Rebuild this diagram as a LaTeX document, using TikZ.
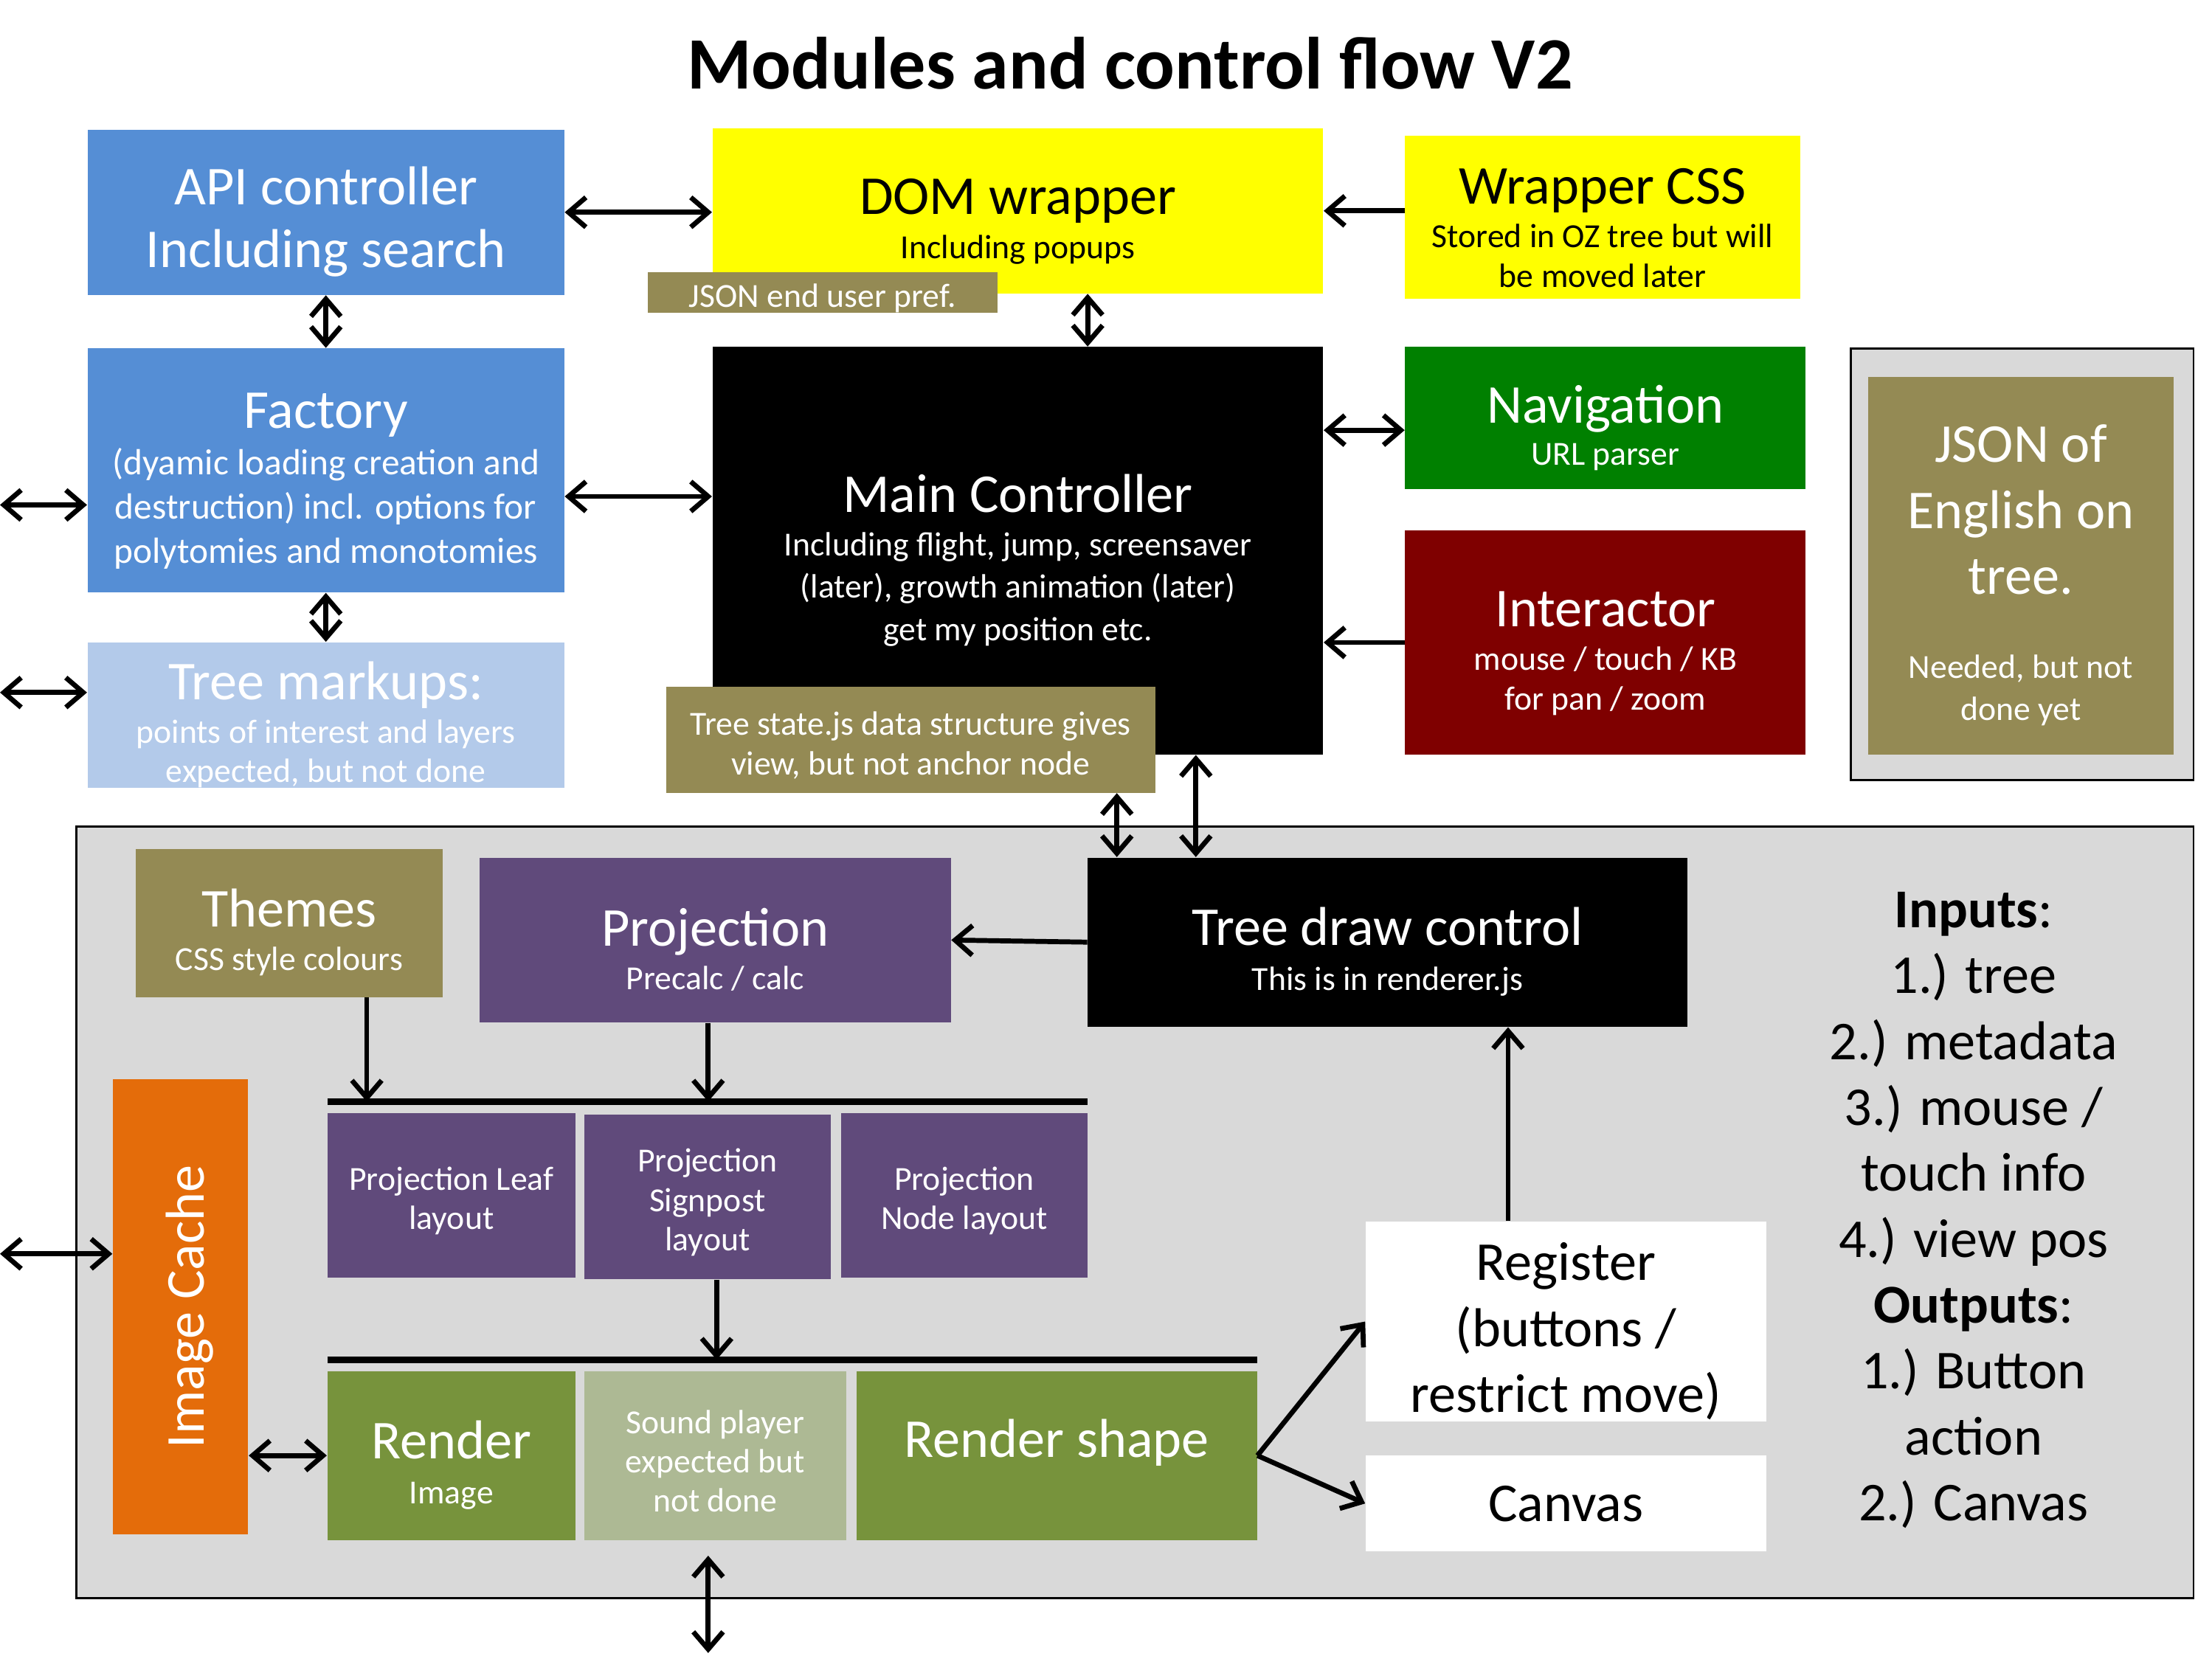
\documentclass[tikz,border=0pt]{standalone}
\usepackage{fontspec}
\setmainfont{Carlito}
\usetikzlibrary{positioning,calc,arrows.meta}
\definecolor{apiblue}{RGB}{85,142,213}
\definecolor{markblue}{RGB}{179,202,234}
\definecolor{domyellow}{RGB}{255,255,0}
\definecolor{ozolive}{RGB}{148,138,84}
\definecolor{navgreen}{RGB}{0,128,0}
\definecolor{interred}{RGB}{127,0,0}
\definecolor{projpurple}{RGB}{96,74,123}
\definecolor{rendergreen}{RGB}{119,147,60}
\definecolor{soundgreen}{RGB}{173,185,148}
\definecolor{cacheorange}{RGB}{228,108,10}
\definecolor{panelgrey}{RGB}{217,217,217}
\newcommand{\bigf}{\fontsize{22.1}{26.6}\selectfont}
\newcommand{\subf}{\fontsize{13.6}{15.9}\selectfont}
% invisible struts that push the text a little lower (or higher) in its box
\newcommand{\topb}{\rule{0pt}{23pt}}
\newcommand{\tops}{\rule{0pt}{14pt}}
\newcommand{\botb}{\rule[-14pt]{0pt}{14pt}}
\lineskiplimit=-\maxdimen

\begin{document}
\begin{tikzpicture}[
    x=0.02cm, y=-0.02cm,
    box/.style={inner sep=0pt, align=center, font=\subf, text=white},
    arrow/.style={-{Straight Barb[length=7pt,width=12pt]}, line width=2pt},
    dblarrow/.style={{Straight Barb[length=7pt,width=12pt]}-{Straight Barb[length=7pt,width=12pt]}, line width=2pt},
    bar/.style={line width=2.6pt}
]
\useasboundingbox (0,0) rectangle (1568,1176);

% Title
\node[font=\fontsize{29.8}{35}\selectfont\bfseries] (title) at (801,45) {Modules and control flow V2};

% Grey panels behind
\node[draw, line width=0.8pt, fill=panelgrey, minimum width=30.02cm, minimum height=10.94cm, inner sep=0pt] (panel) at (804.5,859.5) {};
\node[draw, line width=0.8pt, fill=panelgrey, minimum width=4.86cm, minimum height=6.12cm, inner sep=0pt] (jsonframe) at (1433.5,400) {};

% Top row
\node[box, fill=apiblue, minimum width=6.76cm, minimum height=2.34cm, font=\bigf] (api) at (231,150.5) {\topb API controller\\[-1.1pt]Including search};
\node[box, fill=domyellow, text=black, minimum width=8.66cm, minimum height=2.34cm] (dom) at (721.5,149.5) {{\bigf\topb DOM wrapper}\\[1.7pt]Including popups};
\node[box, fill=ozolive, minimum width=4.96cm, minimum height=0.58cm] (jsonpref) at (583,207.5) {\tops JSON end user pref.};
\node[box, fill=domyellow, text=black, minimum width=5.6cm, minimum height=2.32cm] (wcss) at (1136,154) {{\bigf\topb Wrapper CSS}\\[1.7pt]Stored in OZ tree but will\\be moved later};

% Middle rows
\node[box, fill=apiblue, minimum width=6.76cm, minimum height=3.46cm, font=\fontsize{14.7}{17.9}\selectfont] (factory) at (231,333.5) {{\bigf\topb Factory}\\[0.8pt](dyamic loading creation and\\destruction) incl. options for\\polytomies and monotomies};
\node[box, fill=black, minimum width=8.66cm, minimum height=5.78cm] (mainc) at (721.5,390.5) {{\bigf\topb Main Controller}\\[1.7pt]Including flight, jump, screensaver\\[1.1pt](later), growth animation (later)\\[1.1pt]get my position etc.};
\node[box, fill=navgreen, minimum width=5.68cm, minimum height=2.02cm] (nav) at (1138,296.5) {{\bigf\topb Navigation}\\[1.1pt]URL parser};
\node[box, fill=interred, minimum width=5.68cm, minimum height=3.18cm] (inter) at (1138,455.5) {{\bigf\topb Interactor}\\[1.7pt]mouse / touch / KB\\for pan / zoom};
\node[box, fill=ozolive, minimum width=4.34cm, minimum height=5.36cm] (jsoneng) at (1432.5,401) {{\bigf\topb JSON of}\\[10.7pt]{\bigf English on}\\[10.7pt]{\bigf tree.}\\[18.1pt]Needed, but not\\[1.1pt]done yet};
\node[box, fill=markblue, minimum width=6.76cm, minimum height=2.04cm] (markups) at (231,507) {{\bigf\topb Tree markups:}\\[1.7pt]points of interest and layers\\expected, but not done};
\node[box, fill=ozolive, minimum width=6.94cm, minimum height=1.5cm] (treestate) at (645.5,524.5) {\tops Tree state.js data structure gives\\view, but not anchor node};

% Renderer panel
\node[box, fill=ozolive, minimum width=4.36cm, minimum height=2.1cm] (themes) at (205,654.5) {{\bigf\topb Themes}\\[1.7pt]CSS style colours};
\node[box, fill=projpurple, minimum width=6.68cm, minimum height=2.34cm] (proj) at (507,666.5) {{\bigf\topb Projection}\\[1.7pt]Precalc / calc};
\node[box, fill=black, minimum width=8.5cm, minimum height=2.4cm] (tdc) at (983.5,668) {{\bigf\topb Tree draw control}\\[2.2pt]This is in renderer.js};

\node[box, fill=projpurple, minimum width=3.52cm, minimum height=2.34cm] (pleaf) at (320,847.5) {\tops Projection Leaf\\layout};
\node[box, fill=projpurple, minimum width=3.5cm, minimum height=2.34cm] (psign) at (501.5,848.5) {\tops Projection\\Signpost\\layout};
\node[box, fill=projpurple, minimum width=3.5cm, minimum height=2.34cm] (pnode) at (683.5,847.5) {\tops Projection\\Node layout};

\node[box, fill=rendergreen, minimum width=3.52cm, minimum height=2.4cm] (render) at (320,1032) {{\bigf\topb Render}\\[2.2pt]Image};
\node[box, fill=soundgreen, minimum width=3.72cm, minimum height=2.4cm] (sound) at (507,1032) {\tops Sound player\\expected but\\not done};
\node[box, fill=rendergreen, minimum width=5.68cm, minimum height=2.4cm, font=\bigf] (rshape) at (749,1032) {Render shape\botb};

% rotated: north is the left side, south the right side
\node[box, fill=cacheorange, minimum width=6.46cm, minimum height=1.92cm, font=\bigf, rotate=90] (icache) at (128,926.5) {\topb Image Cache};

\node[box, fill=white, text=black, minimum width=5.68cm, minimum height=2.84cm, font=\bigf] (register) at (1110,937) {\topb Register\\(buttons /\\restrict move)};
\node[box, fill=white, text=black, minimum width=5.68cm, minimum height=1.36cm, font=\bigf] (canvas) at (1110,1066) {Canvas};

\node[align=center, font=\bigf] (inputs) at (1399,858) {\textbf{Inputs}:\\1.) tree\\2.) metadata\\3.) mouse /\\touch info\\4.) view pos\\\textbf{Outputs}:\\1.) Button\\action\\2.) Canvas};

% Bars
\coordinate (b1l) at (232,781);
\coordinate (b1r) at (771,781);
\coordinate (b2l) at (232,964);
\coordinate (b2r) at (891,964);
\draw[bar] (b1l) -- (b1r);
\draw[bar] (b2l) -- (b2r);

% Arrows, top part
\draw[dblarrow] (api.east) -- (api.east -| dom.west);
\draw[arrow] (wcss.west |- dom.east) -- (dom.east);
\draw[dblarrow] (api.south) -- (factory.north);
\draw[dblarrow] ($(dom.south)+(49.5,0)$) -- ($(mainc.north)+(49.5,0)$);
\coordinate (fm) at ($(factory.east)+(0,18.5)$);
\draw[dblarrow] (fm) -- (fm -| mainc.west);
\draw[dblarrow] (factory.south) -- (markups.north);
\coordinate (mn) at ($(nav.west)+(0,8.5)$);
\draw[dblarrow] (mn -| mainc.east) -- (mn);
\draw[arrow] (inter.west) -- (inter.west -| mainc.east);

% Free ends on the left
\coordinate (lfact) at (0,358);
\coordinate (lmark) at (0,491);
\coordinate (lcache) at (0,889);
\draw[dblarrow] (lfact) -- (lfact -| factory.west);
\draw[dblarrow] (lmark) -- (lmark -| markups.west);
\draw[dblarrow] (lcache) -- (lcache -| icache.north);

% Into the renderer
\coordinate (ts) at ($(tdc.north west)+(21,0)$);
\coordinate (mt) at ($(tdc.north west)+(77,0)$);
\draw[dblarrow] (ts |- treestate.south) -- (ts);
\draw[dblarrow] (mt |- mainc.south) -- (mt);
\draw[arrow] (tdc.west) -- (proj.east);
\coordinate (th) at ($(themes.south)+(55,0)$);
\coordinate (pj) at ($(proj.south)+(-5,0)$);
\coordinate (sg) at ($(psign.south)+(6.5,0)$);
\draw[arrow] (th) -- (th |- b1l);
\draw[arrow] (pj) -- (pj |- b1l);
\draw[arrow] (sg) -- (sg |- b2l);
\draw[dblarrow] (icache.south |- render.west) -- (render.west);
\coordinate (bt) at (502,1103);
\coordinate (bb) at (502,1172);
\draw[dblarrow] (bt) -- (bb);
\draw[arrow] (rshape.east) -- (register.west);
\draw[arrow] (rshape.east) -- (canvas.west);
\coordinate (rg) at ($(register.north)+(-41,0)$);
\draw[arrow] (rg) -- (rg |- tdc.south);

\end{tikzpicture}
\end{document}
